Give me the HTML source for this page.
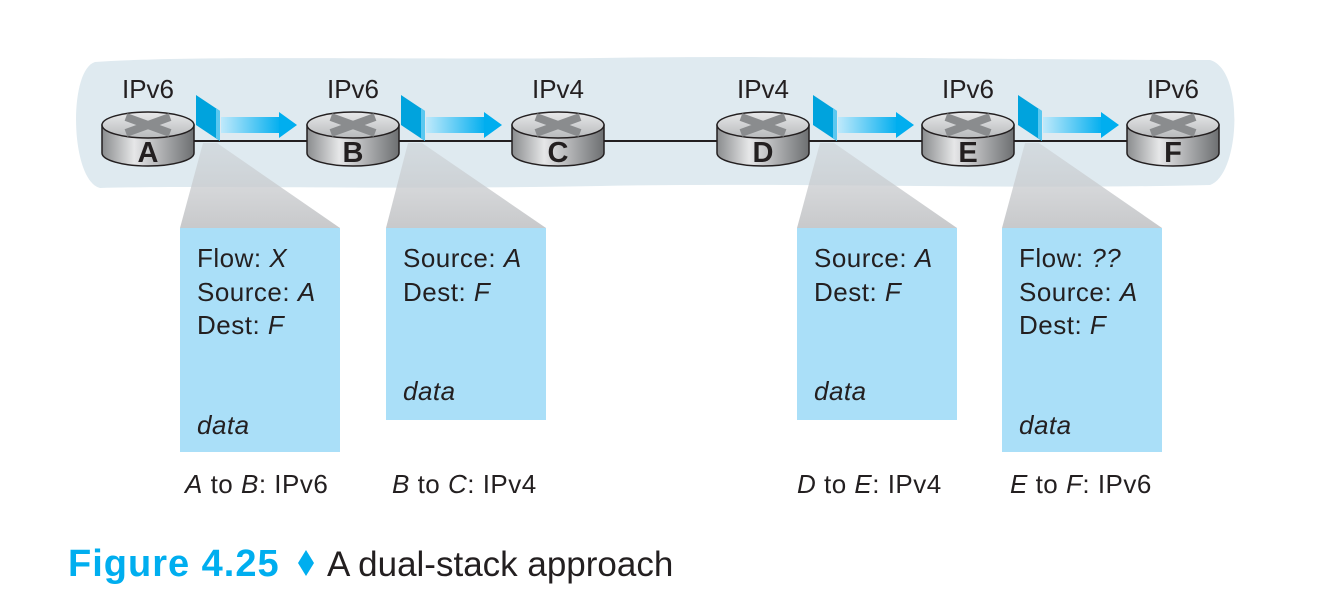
<!DOCTYPE html>
<html><head><style>
body{margin:0;width:1331px;height:600px;background:#fff;overflow:hidden;font-family:"Liberation Sans",sans-serif}
</style></head><body>
<svg width="1331" height="600" xmlns="http://www.w3.org/2000/svg" style="position:absolute;left:0;top:0">
<defs>
<linearGradient id="tr" x1="0" y1="0" x2="0" y2="1"><stop offset="0" stop-color="#c8ccd0" stop-opacity="0.5"/><stop offset="1" stop-color="#c8c9cb"/></linearGradient>
<linearGradient id="ar" x1="0" y1="0" x2="1" y2="0"><stop offset="0" stop-color="#bfe9fb"/><stop offset="1" stop-color="#00aeef"/></linearGradient>
<linearGradient id="rs" x1="0" y1="0" x2="1" y2="0"><stop offset="0" stop-color="#8a8c8e"/><stop offset="0.35" stop-color="#e6e7e8"/><stop offset="1" stop-color="#6d6f71"/></linearGradient>
<linearGradient id="rt" x1="0" y1="0" x2="0" y2="1"><stop offset="0" stop-color="#e8e9ea"/><stop offset="1" stop-color="#b8babc"/></linearGradient>
<g id="rt1">
<path d="M-46,-11 L-46,17 A46,13 0 0 0 46,17 L46,-11 Z" fill="url(#rs)" stroke="#231f20" stroke-width="1.5"/>
<ellipse cx="0" cy="-11" rx="46" ry="13" fill="url(#rt)" stroke="#231f20" stroke-width="1.5"/>
<path d="M-22,-19 L22,-3 M22,-19 L-22,-3" stroke="#8a8c8e" stroke-width="8"/>
</g>
<g id="pk">
<polygon points="0,0 24,16 24,46 0,30" fill="#00a3dd"/>
<polygon points="20,13 24,16 24,46 20,43" fill="#5bc8f0"/>
<rect x="25" y="22" width="60" height="16" fill="url(#ar)"/>
<polygon points="83,17 101,30 83,43" fill="#00aeef"/>
</g>
</defs>
<path d="M95,62 C200,55 400,60 600,58 C800,55 1000,60 1210,60 C1245,70 1240,175 1210,185 C1000,190 800,182 600,186 C400,190 200,185 100,188 C70,180 68,70 95,62 Z" fill="#dfeaf0"/>
<polygon points="203,143 217,143 340,228 180,228" fill="url(#tr)"/>
<polygon points="408,143 422,143 546,228 386,228" fill="url(#tr)"/>
<polygon points="820,143 834,143 957,228 797,228" fill="url(#tr)"/>
<polygon points="1025,143 1039,143 1162,228 1002,228" fill="url(#tr)"/>
<line x1="148" y1="141" x2="1173" y2="141" stroke="#231f20" stroke-width="2"/>
<use href="#rt1" x="148" y="136"/><use href="#rt1" x="353" y="136"/><use href="#rt1" x="558" y="136"/>
<use href="#rt1" x="763" y="136"/><use href="#rt1" x="968" y="136"/><use href="#rt1" x="1173" y="136"/>
<g font-weight="bold" font-size="29" fill="#231f20" text-anchor="middle">
<text x="148" y="162">A</text><text x="353" y="162">B</text><text x="558" y="162">C</text><text x="763" y="162">D</text><text x="968" y="162">E</text><text x="1173" y="162">F</text></g>
<g font-size="26" fill="#231f20" text-anchor="middle">
<text x="148" y="98">IPv6</text><text x="353" y="98">IPv6</text><text x="558" y="98">IPv4</text><text x="763" y="98">IPv4</text><text x="968" y="98">IPv6</text><text x="1173" y="98">IPv6</text></g>
<use href="#pk" x="196" y="95"/><use href="#pk" x="401" y="95"/><use href="#pk" x="813" y="95"/><use href="#pk" x="1018" y="95"/>
<rect x="180" y="228" width="160" height="224" fill="#aadff8"/>
<rect x="386" y="228" width="160" height="192" fill="#aadff8"/>
<rect x="797" y="228" width="160" height="192" fill="#aadff8"/>
<rect x="1002" y="228" width="160" height="224" fill="#aadff8"/>
<g font-size="26" fill="#231f20" letter-spacing="0.5">
<text x="197" y="267">Flow: <tspan font-style="italic">X</tspan></text>
<text x="197" y="301">Source: <tspan font-style="italic">A</tspan></text>
<text x="197" y="334">Dest: <tspan font-style="italic">F</tspan></text>
<text x="197" y="434" font-style="italic">data</text>
<text x="403" y="267">Source: <tspan font-style="italic">A</tspan></text>
<text x="403" y="301">Dest: <tspan font-style="italic">F</tspan></text>
<text x="403" y="400" font-style="italic">data</text>
<text x="814" y="267">Source: <tspan font-style="italic">A</tspan></text>
<text x="814" y="301">Dest: <tspan font-style="italic">F</tspan></text>
<text x="814" y="400" font-style="italic">data</text>
<text x="1019" y="267">Flow: <tspan font-style="italic">??</tspan></text>
<text x="1019" y="301">Source: <tspan font-style="italic">A</tspan></text>
<text x="1019" y="334">Dest: <tspan font-style="italic">F</tspan></text>
<text x="1019" y="434" font-style="italic">data</text>
<text x="185" y="493"><tspan font-style="italic">A</tspan> to <tspan font-style="italic">B</tspan>: IPv6</text>
<text x="392" y="493"><tspan font-style="italic">B</tspan> to <tspan font-style="italic">C</tspan>: IPv4</text>
<text x="797" y="493"><tspan font-style="italic">D</tspan> to <tspan font-style="italic">E</tspan>: IPv4</text>
<text x="1010" y="493"><tspan font-style="italic">E</tspan> to <tspan font-style="italic">F</tspan>: IPv6</text>
</g>
<text x="68" y="576" font-size="38" font-weight="bold" fill="#00aeef" letter-spacing="1">Figure 4.25</text>
<polygon points="306,550 314,563 306,576 298,563" fill="#00aeef"/>
<text x="327" y="576" font-size="35" fill="#231f20">A dual-stack approach</text>
</svg>
</body></html>
